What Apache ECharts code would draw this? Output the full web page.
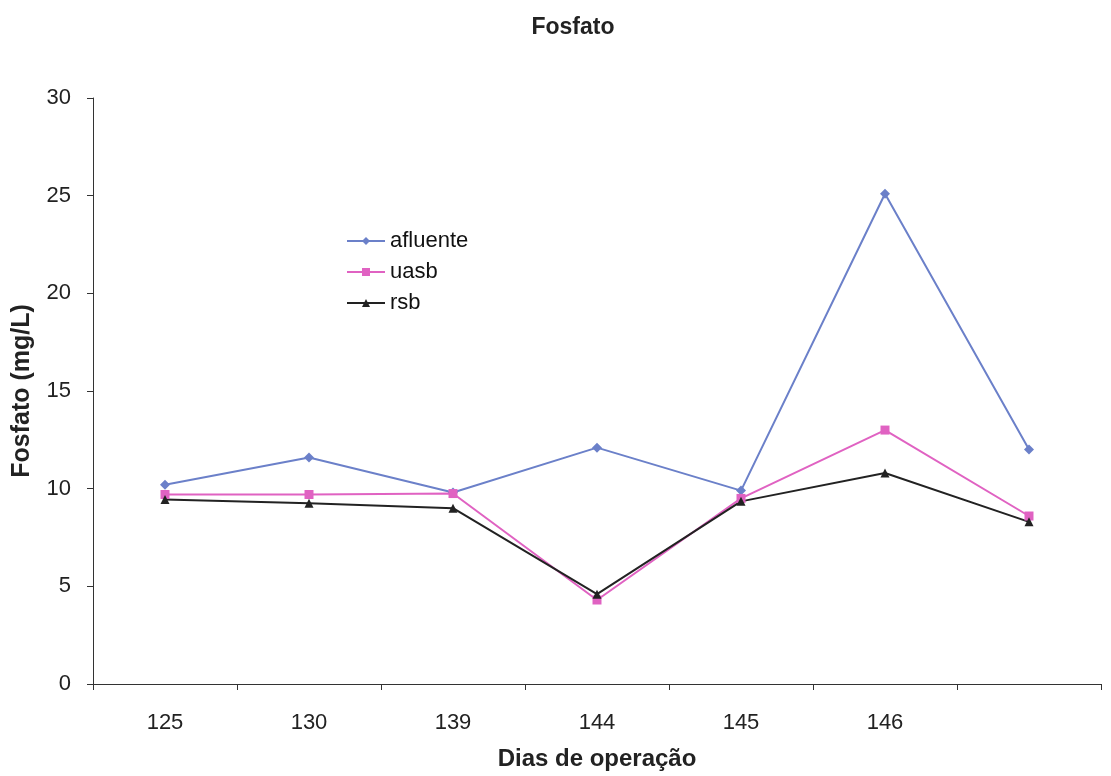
<!DOCTYPE html>
<html>
<head>
<meta charset="utf-8">
<script src="https://cdn.jsdelivr.net/npm/echarts@6/dist/echarts.min.js"></script>
<style>
  html, body { margin: 0; padding: 0; background: #fff; }
  #chart { width: 1111px; height: 776px; }
</style>
</head>
<body>
<div id="chart"></div>
<script>
// Operation days (last sampling point has no day label)
const dias = ['125', '130', '139', '144', '145', '146', ''];

// Phosphate concentration (mg/L)
const afluente = [10.2, 11.6, 9.8, 12.1, 9.9, 25.1, 12.0];
const uasb     = [9.7, 9.7, 9.75, 4.3, 9.5, 13.0, 8.6];
const rsb      = [9.45, 9.25, 9.0, 4.6, 9.35, 10.8, 8.3];

const yTicks = { min: 0, max: 30, interval: 5 };

const font = 'Liberation Sans, Arial, sans-serif';

const chart = echarts.init(document.getElementById('chart'), null, { renderer: 'canvas' });

function lineSeries(name, data, color, symbol, size) {
  return {
    name: name,
    type: 'line',
    data: data,
    symbol: symbol,
    symbolSize: size,
    showAllSymbol: true,
    lineStyle: { color: color, width: 2 },
    itemStyle: { color: color },
    emphasis: { disabled: true },
    animation: false
  };
}

chart.setOption({
  backgroundColor: '#ffffff',
  animation: false,
  title: {
    text: 'Fosfato',
    left: 568,
    top: 11,
    textAlign: 'center',
    textStyle: { fontFamily: font, fontSize: 23, fontWeight: 'bold', color: '#222' }
  },
  legend: {
    orient: 'vertical',
    left: 341,
    top: 225,
    itemGap: 9,
    itemWidth: 38,
    itemHeight: 10,
    textStyle: { fontFamily: font, fontSize: 22, color: '#111' },
    data: ['afluente', 'uasb', 'rsb']
  },
  grid: { left: 93, right: 10, top: 98, bottom: 87, containLabel: false },
  xAxis: {
    type: 'category',
    data: dias,
    boundaryGap: true,
    name: 'Dias de operação',
    nameLocation: 'middle',
    nameGap: 63,
    nameTextStyle: { fontFamily: font, fontSize: 24, fontWeight: 'bold', color: '#222' },
    axisLine: { lineStyle: { color: '#333', width: 1 } },
    axisTick: { show: true, length: 6, lineStyle: { color: '#333' } },
    axisLabel: { fontFamily: font, fontSize: 22, color: '#222', margin: 28 },
    splitLine: { show: false }
  },
  yAxis: {
    type: 'value',
    min: yTicks.min,
    max: yTicks.max,
    interval: yTicks.interval,
    name: 'Fosfato (mg/L)',
    nameLocation: 'middle',
    nameGap: 58,
    nameTextStyle: { fontFamily: font, fontSize: 25, fontWeight: 'bold', color: '#222' },
    axisLine: { show: true, lineStyle: { color: '#333', width: 1 } },
    axisTick: { show: true, length: 6, lineStyle: { color: '#333' } },
    axisLabel: { fontFamily: font, fontSize: 22, color: '#222', margin: 22 },
    splitLine: { show: false }
  },
  series: [
    lineSeries('afluente', afluente, '#6b80c9', 'diamond', 10),
    lineSeries('uasb', uasb, '#e062c2', 'rect', 9),
    lineSeries('rsb', rsb, '#222222', 'triangle', 9)
  ]
});
</script>
</body>
</html>
